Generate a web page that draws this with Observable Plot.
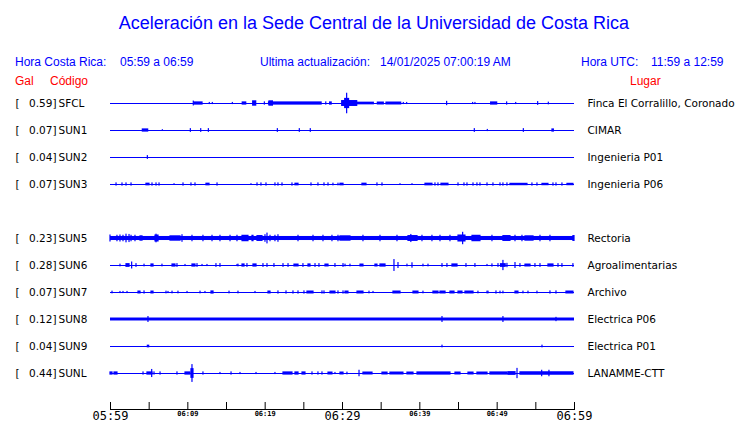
<!DOCTYPE html>
<html><head><meta charset="utf-8">
<script src="https://cdn.jsdelivr.net/npm/d3@7"></script>
<script src="https://cdn.jsdelivr.net/npm/@observablehq/plot@0.6"></script>
<style>
body{margin:0;background:#fff;}
#wrap{position:relative;width:740px;height:423px;overflow:hidden;background:#fff;}
#head{position:relative;width:740px;height:88px;font-family:"Liberation Sans",Arial,sans-serif;}
#head div{position:absolute;white-space:pre;line-height:1;}
.b{color:#0000ff;font-size:12px;}
.r{color:#ff0000;font-size:12px;}
#chart svg{display:block;}
</style></head><body>
<div id="wrap">
<div id="head">
<div class="b" style="font-size:18px;left:0;width:748px;text-align:center;top:14px;">Aceleración en la Sede Central de la Universidad de Costa Rica</div>
<div class="b" style="left:15px;top:56px;">Hora Costa Rica:</div>
<div class="b" style="left:120px;top:56px;">05:59 a 06:59</div>
<div class="b" style="left:260px;top:56px;">Ultima actualización:</div>
<div class="b" style="left:380px;top:56px;">14/01/2025 07:00:19 AM</div>
<div class="b" style="left:581px;top:56px;">Hora UTC:</div>
<div class="b" style="left:651px;top:56px;">11:59 a 12:59</div>
<div class="r" style="left:15px;top:75px;">Gal</div>
<div class="r" style="left:50px;top:75px;">Código</div>
<div class="r" style="left:630px;top:75px;">Lugar</div>
</div>
<div id="chart"></div>
</div>
<script>
const BLUE = "#0000ff";
const codes  = ["SFCL","SUN1","SUN2","SUN3","SUN5","SUN6","SUN7","SUN8","SUN9","SUNL"];
const rows   = [0,1,2,3,5,6,7,8,9,10];
const gal    = [0.59,0.07,0.04,0.07,0.23,0.28,0.07,0.12,0.04,0.44];
const places = ["Finca El Corralillo, Coronado","CIMAR","Ingenieria P01","Ingenieria P06","Rectoria","Agroalimentarias","Archivo","Electrica P06","Electrica P01","LANAMME-CTT"];
const noise  = [0,0,0,0,0.075,0,0,0.055,0,0];

// events: [start minute, end minute, half amplitude (row units)], minutes after 05:59
const evSFCL = [[10.77,10.77,.09],[10.86,11.9,.06],[12.84,12.84,.04],[13.23,13.23,.04],[15.82,15.82,.04],[17.1,17.55,.06],[18.45,18.84,.1],[19.96,19.96,.06],[20.5,27.3,.06],[20.56,21.0,.1],[27.9,27.9,.06],[28.4,28.6,.06],[29.96,31.9,.11],[30.35,30.85,.19],[30.6,30.6,.38],[31.9,34.05,.05],[34.57,35.34,.055],[35.69,37.59,.055],[37.93,37.93,.04],[38.36,38.36,.04],[43.53,43.53,.08],[46.89,46.89,.04],[47.19,47.19,.04],[49.22,50.0,.06],[51.29,51.29,.06],[52.46,52.46,.04],[55.3,55.3,.07],[56.68,56.68,.05]];
const evSUN1 = [[4.18,4.87,.06],[6.77,6.77,.03],[10.39,10.39,.07],[11.73,11.73,.07],[12.72,12.72,.07],[21.64,21.64,.07],[24.48,24.48,.07],[25.9,25.9,.07],[47.11,47.11,.07],[48.79,48.79,.04],[53.45,53.45,.07],[57.15,57.33,.06]];
const evSUN2 = [[4.83,4.83,.07]];
const evSUN3 = [[0.78,0.78,.06],[1.55,1.55,.06],[2.07,2.07,.06],[2.72,2.72,.06],[4.65,5.04,.05],[5.43,5.43,.06],[5.95,5.95,.06],[6.34,6.34,.06],[8.28,8.28,.03],[9.44,9.44,.06],[10.47,10.47,.06],[10.99,10.99,.06],[12.41,12.8,.05],[13.84,13.84,.06],[18.23,18.23,.03],[19.01,19.01,.06],[19.52,19.52,.06],[20.17,20.17,.06],[21.33,21.33,.06],[21.72,21.72,.06],[22.24,22.24,.06],[23.53,23.53,.06],[23.92,24.31,.05],[25.99,25.99,.06],[26.89,26.89,.06],[27.67,27.67,.06],[28.19,28.19,.06],[28.83,28.83,.05],[29.48,29.48,.05],[29.74,30.13,.05],[32.58,33.1,.05],[34.52,34.52,.06],[35.17,35.17,.06],[37.5,37.5,.03],[39.05,39.05,.03],[40.73,41.63,.05],[42.02,42.02,.06],[42.41,42.41,.06],[42.8,43.7,.05],[45.0,45.0,.06],[45.77,45.77,.06],[46.16,46.16,.06],[46.94,46.94,.06],[47.45,47.45,.06],[47.84,47.84,.06],[48.75,48.75,.06],[49.52,49.52,.06],[50.43,50.43,.06],[50.81,50.81,.06],[51.33,51.33,.06],[51.72,53.92,.045],[54.56,54.56,.06],[55.21,55.21,.06],[55.86,56.63,.045],[57.28,57.28,.06],[57.67,57.67,.06],[58.44,58.44,.06],[59.09,59.86,.045]];
const evSUN5 = [[0,0,.13],[0.9,0.9,.12],[1.29,1.29,.13],[1.68,1.68,.12],[2.07,2.07,.16],[2.46,2.46,.15],[2.72,2.72,.12],[3.23,3.23,.12],[3.88,4.14,.1],[5.82,6.21,.13],[5.95,5.95,.16],[7.76,9.05,.1],[9.31,9.31,.14],[10.6,10.6,.12],[12.02,12.02,.12],[13.19,13.19,.12],[14.22,14.22,.12],[15.52,15.52,.12],[16.42,16.42,.12],[17.07,17.84,.12],[18.36,18.49,.12],[19.01,19.65,.11],[20.04,20.04,.14],[20.3,20.3,.2],[20.69,20.69,.12],[21.33,21.33,.12],[21.72,21.72,.14],[24.31,24.31,.12],[26.25,26.25,.12],[27.54,27.54,.12],[28.7,28.7,.12],[29.48,29.48,.12],[29.74,31.03,.1],[32.71,32.71,.12],[34.91,34.91,.12],[37.11,37.11,.12],[38.53,39.7,.11],[38.9,38.9,.15],[40.34,40.34,.12],[41.63,41.63,.12],[42.67,42.67,.12],[43.96,43.96,.12],[45.0,45.9,.13],[45.6,45.6,.23],[46.81,47.84,.12],[49.39,49.39,.12],[50.81,51.72,.11],[52.37,52.37,.12],[53.27,53.27,.12],[53.66,54.7,.1],[55.6,55.6,.12],[56.89,56.89,.12],[59.86,60,.11]];
const evSUN6 = [[1.29,1.29,.05],[2.07,2.46,.07],[2.8,2.8,.13],[3.36,3.36,.07],[4.4,4.4,.05],[5.3,5.56,.06],[6.72,6.72,.05],[8.02,8.4,.06],[8.66,8.66,.07],[9.7,9.7,.04],[10.6,10.99,.06],[11.25,11.25,.07],[11.9,11.9,.04],[12.54,12.54,.04],[13.7,13.7,.07],[14.22,14.22,.07],[16.42,16.42,.04],[16.55,16.55,.05],[17.07,17.33,.06],[17.71,17.71,.07],[18.49,18.88,.06],[19.78,19.78,.07],[20.3,20.3,.07],[21.2,21.2,.07],[22.37,22.37,.07],[23.02,23.02,.07],[23.79,24.31,.055],[24.95,24.95,.07],[25.6,25.86,.06],[26.51,26.51,.07],[27.02,27.02,.07],[27.8,28.19,.055],[29.09,29.09,.07],[30.13,30.13,.07],[30.39,30.39,.05],[31.03,31.03,.05],[32.33,32.71,.055],[34.26,34.52,.055],[34.91,35.56,.06],[36.72,36.72,.22],[37.24,37.24,.11],[38.4,38.4,.05],[39.05,39.05,.1],[40.47,40.47,.05],[41.12,41.12,.05],[42.93,42.93,.07],[43.57,43.57,.07],[44.22,44.87,.06],[46.03,46.03,.07],[47.19,47.19,.07],[48.75,48.75,.04],[49.39,49.39,.06],[50.17,50.17,.07],[50.5,51.1,.07],[50.81,50.81,.19],[51.33,51.33,.08],[52.37,52.37,.11],[53.01,53.01,.07],[53.66,54.31,.055],[54.95,54.95,.07],[55.6,55.6,.07],[56.63,57.28,.06],[57.93,57.93,.07],[58.44,58.44,.07],[59.86,59.86,.07]];
const evSUN7 = [[0.26,0.26,.05],[1.29,1.29,.04],[1.68,1.68,.04],[2.2,2.2,.04],[3.62,3.88,.055],[4.4,4.4,.06],[5.3,5.56,.055],[7.24,7.24,.05],[7.5,7.5,.04],[8.02,8.02,.05],[8.79,8.79,.05],[9.96,9.96,.04],[11.64,11.64,.05],[12.28,12.28,.04],[13.06,13.32,.06],[15.39,15.39,.05],[16.55,16.55,.05],[18.75,18.75,.04],[20.43,20.69,.055],[21.72,21.72,.06],[22.76,22.76,.06],[23.66,23.66,.06],[24.31,24.31,.06],[25.08,25.08,.06],[25.47,26.25,.055],[27.41,27.41,.06],[27.67,27.67,.06],[28.45,29.09,.055],[29.48,29.48,.06],[30.13,30.13,.06],[30.39,30.77,.055],[31.94,32.71,.055],[33.49,33.49,.05],[34.01,34.01,.04],[36.59,37.5,.055],[39.18,39.82,.055],[40.47,40.47,.05],[41.76,42.41,.055],[42.67,43.32,.055],[43.96,44.48,.055],[45.0,45.51,.055],[45.9,46.94,.055],[47.58,47.58,.05],[48.75,48.75,.05],[48.88,48.88,.05],[49.91,49.91,.06],[50.43,50.43,.05],[50.81,50.81,.05],[52.37,52.75,.055],[53.4,53.4,.05],[54.05,54.05,.05],[55.21,55.21,.05],[56.89,56.89,.06],[57.67,57.67,.06],[58.96,59.86,.055]];
const evSUN8 = [[4.91,4.91,.11],[42.93,42.93,.11],[50.81,50.81,.11],[57.67,57.67,.08]];
const evSUN9 = [[4.83,5.0,.05],[42.93,42.93,.05],[55.86,55.86,.05]];
const evSUNL = [[0,0.26,.06],[0.52,0.9,.06],[4.27,4.27,.06],[4.78,5.43,.06],[5.39,5.39,.15],[5.69,5.69,.06],[6.47,6.47,.06],[8.66,8.66,.06],[9.7,10.34,.06],[10.47,10.73,.18],[10.6,10.6,.33],[12.02,12.02,.06],[14.22,14.22,.04],[15.65,15.65,.06],[16.81,16.81,.04],[18.88,18.88,.04],[21.33,21.33,.04],[22.37,23.53,.06],[23.92,24.31,.06],[24.83,25.21,.06],[26.12,26.12,.06],[26.89,26.89,.06],[27.41,27.41,.06],[28.19,28.7,.055],[29.09,29.09,.04],[29.74,30.13,.055],[30.64,30.64,.05],[32.2,32.2,.12],[32.71,33.88,.055],[35.17,35.82,.055],[36.2,37.88,.055],[38.4,39.18,.055],[39.7,43.96,.06],[44.61,45.26,.055],[46.29,46.94,.055],[47.45,48.75,.055],[49.13,51.33,.06],[51.46,52.37,.07],[52.63,52.63,.19],[53.01,59.86,.065],[55.82,55.82,.12],[56.76,56.76,.12]];
const eventLists = [evSFCL,evSUN1,evSUN2,evSUN3,evSUN5,evSUN6,evSUN7,evSUN8,evSUN9,evSUNL];

const tickLabels  = ["05:59","06:04","06:09","06:14","06:19","06:24","06:29","06:34","06:39","06:44","06:49","06:54","06:59"];
const bigLabels   = ["05:59","06:29","06:59"];
const smallLabels = ["06:09","06:19","06:39","06:49"];

const parse = s => new Date(`2025-01-14T${s}:00Z`);
const base = parse("05:59");
const toDate = m => new Date(+base + m * 60000);

const stations = codes.map((c, i) => ({code: c, row: rows[i], gal: gal[i], place: places[i], noise: noise[i]}));
const events = stations.flatMap((s, i) => eventLists[i].map(([a, b, amp]) => ({row: s.row, t1: a, t2: b, amp})));

const txt = {fontFamily: "DejaVu Sans", fontSize: 10.5, fill: "black"};

const chart = Plot.plot({
  width: 740, height: 335,
  marginLeft: 110, marginRight: 166, marginTop: 0, marginBottom: 14,
  x: {type: "utc", domain: [parse("05:59"), parse("06:59")], axis: null},
  y: {type: "linear", domain: [0, 10], range: [15, 285], axis: null},
  style: {background: "white", overflow: "visible"},
  marks: [
    Plot.ruleY(stations, {y: "row", stroke: BLUE, strokeWidth: 1}),
    Plot.rect(stations.filter(d => d.noise > 0), {y1: d => d.row - d.noise, y2: d => d.row + d.noise, fill: BLUE}),
    Plot.rect(events, {x1: d => toDate(d.t1), x2: d => toDate(d.t2), y1: d => d.row - d.amp, y2: d => d.row + d.amp, fill: BLUE, insetLeft: -0.6, insetRight: -0.6}),
    Plot.text(stations, {...txt, y: "row", frameAnchor: "left", dx: -95, text: () => "[", textAnchor: "start"}),
    Plot.text(stations, {...txt, y: "row", frameAnchor: "left", dx: -54, text: d => d.gal.toFixed(2) + "]", textAnchor: "end"}),
    Plot.text(stations, {...txt, y: "row", frameAnchor: "left", dx: -52, text: "code", textAnchor: "start"}),
    Plot.text(stations, {...txt, y: "row", frameAnchor: "right", dx: 13, text: "place", textAnchor: "start"}),
    Plot.frame({anchor: "bottom", stroke: "black"}),
    Plot.ruleX(tickLabels, {x: parse, stroke: "black", insetTop: 314}),
    Plot.text(bigLabels, {x: parse, text: d => d, frameAnchor: "bottom", lineAnchor: "top", dy: 2, fontSize: 12, fontFamily: "DejaVu Sans Mono", fill: "black"}),
    Plot.text(smallLabels, {x: parse, text: d => d, frameAnchor: "bottom", lineAnchor: "top", dy: 2, fontSize: 7, fontFamily: "DejaVu Sans Mono", fill: "black", fontWeight: 600})
  ]
});
document.getElementById("chart").appendChild(chart);
</script>
</body></html>
